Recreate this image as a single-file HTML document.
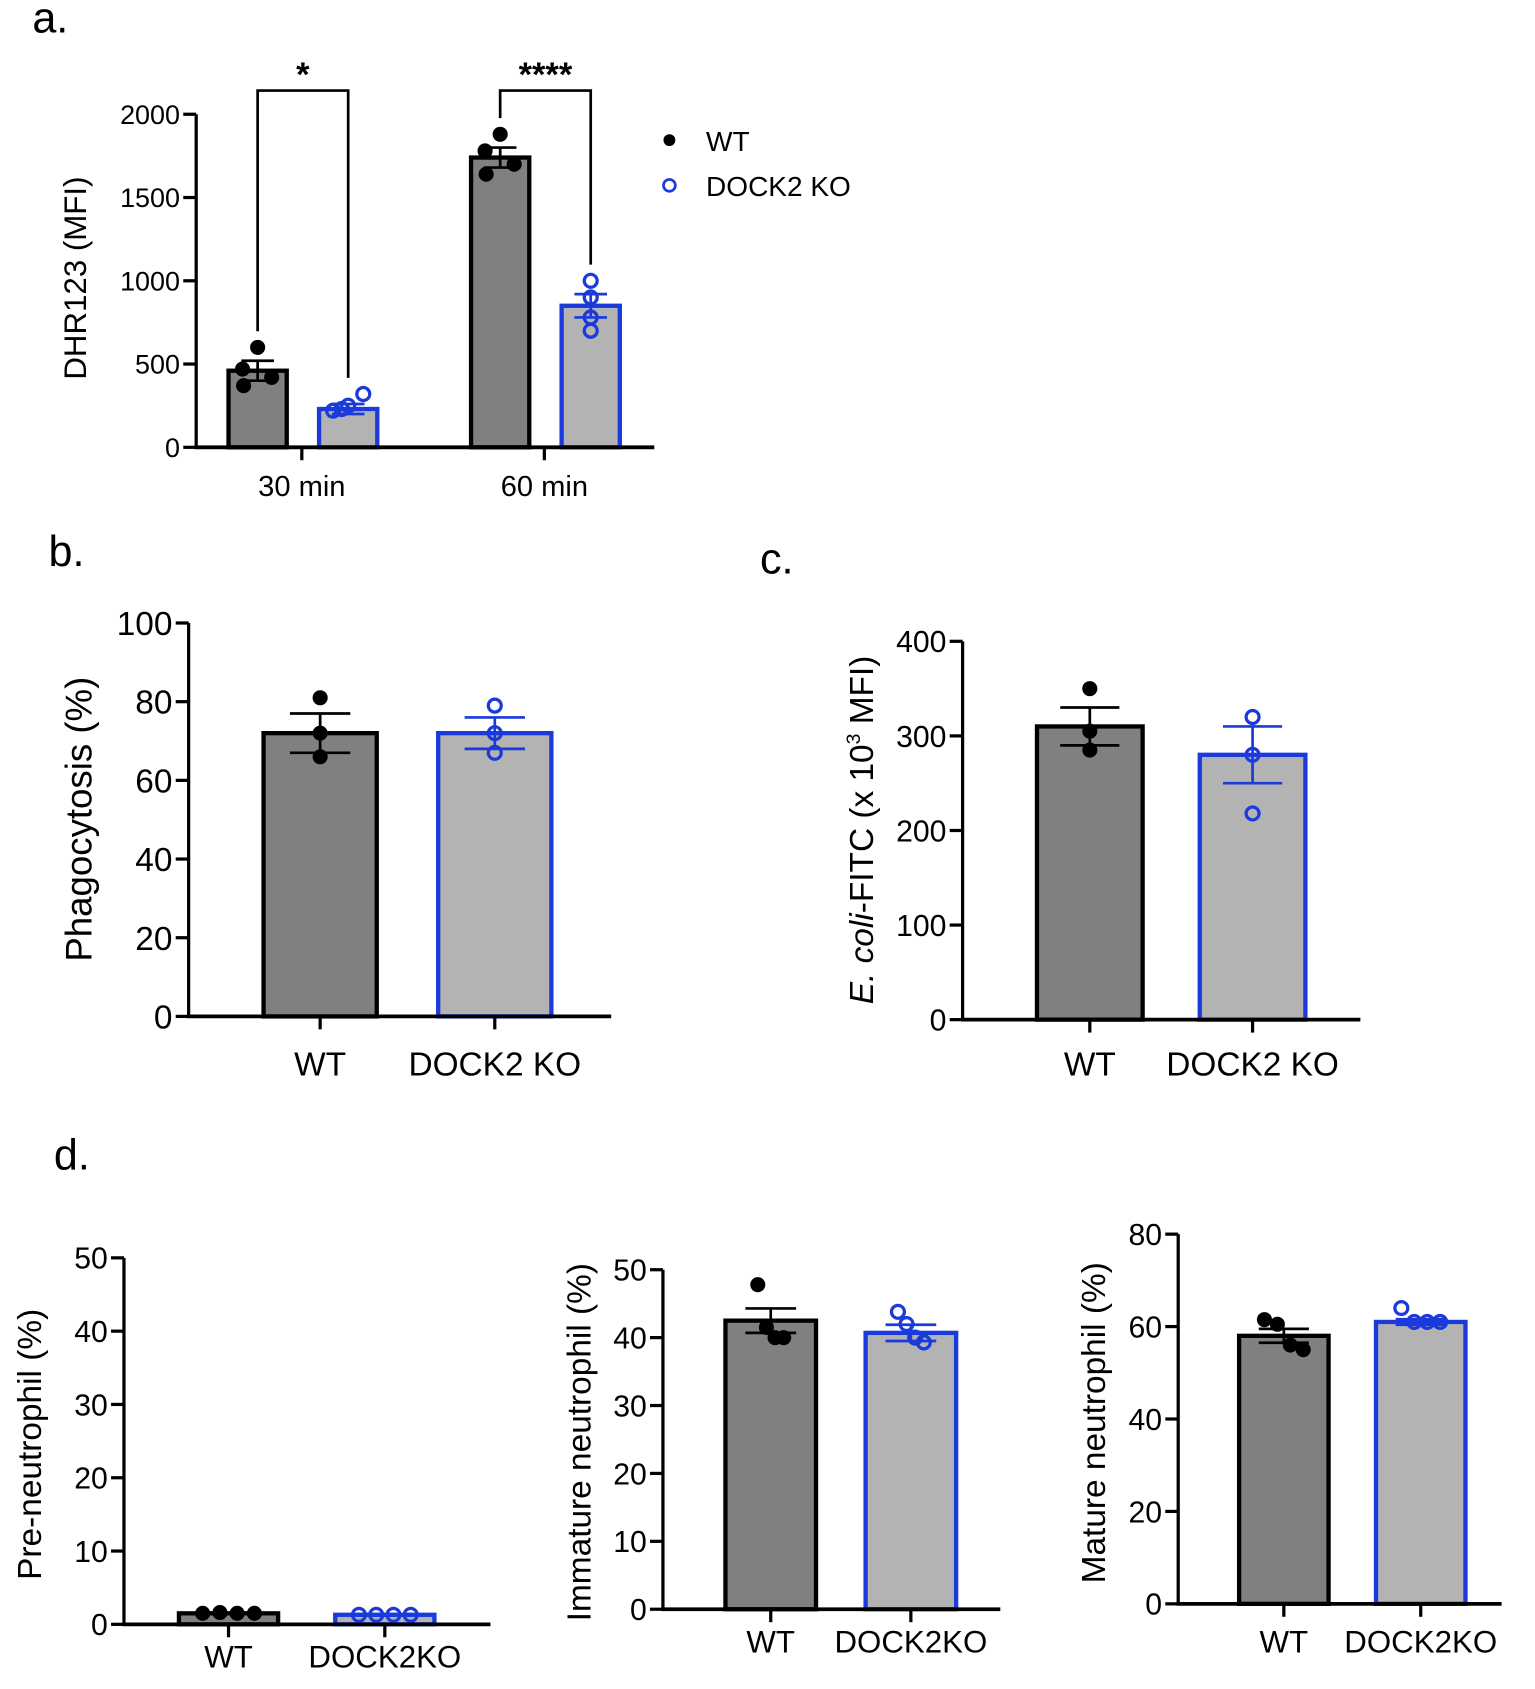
<!DOCTYPE html>
<html><head><meta charset="utf-8"><style>
html,body{margin:0;padding:0;background:#fff;}
svg{display:block;font-family:"Liberation Sans",Arial,sans-serif;}
</style></head><body>
<svg id="fig" width="1535" height="1689" viewBox="0 0 1424 1567" preserveAspectRatio="none" xmlns="http://www.w3.org/2000/svg">
<text x="30" y="30" font-size="40">a.</text>
<text x="45" y="525" font-size="40">b.</text>
<text x="705" y="532" font-size="40">c.</text>
<text x="50" y="1085" font-size="40">d.</text>
<g>
<circle cx="621" cy="130" r="5.5" fill="#000"/>
<text x="655" y="140" font-size="26">WT</text>
<circle cx="621" cy="172" r="5.5" fill="none" stroke="#1a3adb" stroke-width="2.5"/>
<text x="655" y="182" font-size="26">DOCK2 KO</text>
</g>
</svg>
<script>
// Panel a data
const aCategories = ["30 min", "60 min"];
const aWT = [460, 1740];
const aKO = [230, 850];
const aWTsem = [60, 60];
const aKOsem = [30, 70];
const aWTpts = [[600, 470, 420, 370], [1880, 1780, 1700, 1640]];
const aKOpts = [[320, 250, 230, 220], [1000, 900, 780, 700]];
const aTicks = [0, 500, 1000, 1500, 2000];
const aSig = ["*", "****"];
// Panel b data
const bCategories = ["WT", "DOCK2 KO"];
const bValues = [72, 72];
const bSem = [5, 4];
const bPts = [[81, 72, 66], [79, 72, 67]];
const bTicks = [0, 20, 40, 60, 80, 100];
// Panel c data
const cCategories = ["WT", "DOCK2 KO"];
const cValues = [310, 280];
const cSem = [20, 30];
const cPts = [[350, 305, 285], [320, 280, 218]];
const cTicks = [0, 100, 200, 300, 400];
// Panel d data
const dCategories = ["WT", "DOCK2KO"];
const d1Values = [1.5, 1.3];
const d1Sem = [0.1, 0.1];
const d1Pts = [[1.5, 1.6, 1.5, 1.5], [1.3, 1.3, 1.3, 1.3]];
const d1Ticks = [0, 10, 20, 30, 40, 50];
const d2Values = [42.5, 40.7];
const d2Sem = [1.8, 1.2];
const d2Pts = [[47.8, 41.5, 40, 40], [43.8, 42, 40, 39.3]];
const d2Ticks = [0, 10, 20, 30, 40, 50];
const d3Values = [58, 61];
const d3Sem = [1.5, 0.6];
const d3Pts = [[61.5, 60.5, 56, 55], [64, 61, 61, 61]];
const d3Ticks = [0, 20, 40, 60, 80];

const NS = "http://www.w3.org/2000/svg";
const svg = document.getElementById("fig");
const BLUE = "#1a3adb";
function mk(tag, attrs, parent, txt) {
  const e = document.createElementNS(NS, tag);
  for (const k in attrs) e.setAttribute(k, attrs[k]);
  if (txt !== undefined) e.textContent = txt;
  (parent || svg).appendChild(e);
  return e;
}
function makeAxis(cfg) {
  return v => cfg.yBot - (v / cfg.max) * (cfg.yBot - cfg.yTop);
}
function drawAxes(g, cfg, y, ticks, tickFs) {
  let e = mk("line", {x1: cfg.x0, y1: cfg.yTop, x2: cfg.x0, y2: cfg.yBot, stroke: "#000", "stroke-width": 3}, g);
  
  
  e = mk("line", {x1: cfg.x0 - 1.5, y1: cfg.yBot, x2: cfg.x1, y2: cfg.yBot, stroke: "#000", "stroke-width": 3.5}, g);
  
  
  ticks.forEach(t => {
    const ty = y(t);
    let l = mk("line", {x1: cfg.x0 - 12, y1: ty, x2: cfg.x0, y2: ty, stroke: "#000", "stroke-width": 3}, g);
    
    
    let tx = mk("text", {x: cfg.x0 - 15, y: ty + tickFs * 0.36, "font-size": tickFs, "text-anchor": "end"}, g, String(t));
    
    
  });
}
function drawBar(g, xl, w, val, sem, pts, y, isKO, yBot) {
  const top = y(val);
  let r = mk("rect", {x: xl, y: top, width: w, height: yBot - top, fill: isKO ? "#b3b3b3" : "#808080", stroke: isKO ? BLUE : "#000", "stroke-width": 4}, g);
  
  
  const cx = xl + w / 2, col = isKO ? BLUE : "#000", ew = Math.min(w * 0.28, 28);
  let eb = mk("path", {d: `M${cx - ew} ${y(val + sem)}H${cx + ew}M${cx} ${y(val + sem)}V${y(val - sem)}M${cx - ew} ${y(val - sem)}H${cx + ew}`, stroke: col, "stroke-width": 2.5, fill: "none"}, g);
  
  
  return {cx, col};
}
function drawPts(g, xs, pts, y, isKO) {
  pts.forEach((p, i) => {
    const c = mk("circle", {cx: xs[i], cy: y(p), r: isKO ? 6 : 7, fill: isKO ? "none" : "#000", stroke: isKO ? BLUE : "#000", "stroke-width": isKO ? 3 : 0}, g);
    
    
  });
}
function yTitle(g, x, cy, fs, content) {
  const t = mk("text", {x: 0, y: 0, "font-size": fs, "text-anchor": "middle", transform: `translate(${x},${cy}) rotate(-90)`}, g);
  t.innerHTML = content;
  
  
}
function xLabels(g, centers, labels, yBot, labelY, fs) {
  centers.forEach((cx, i) => {
    let l = mk("line", {x1: cx, y1: yBot, x2: cx, y2: yBot + 12, stroke: "#000", "stroke-width": 3}, g);
    
    
    let t = mk("text", {x: cx, y: labelY, "font-size": fs, "text-anchor": "middle"}, g, labels[i]);
    
    
  });
}

// Panel a
(function () {
  const g = mk("g", {});
  
  
  const cfg = {x0: 182, x1: 607, yTop: 106, yBot: 415, max: 2000};
  const y = makeAxis(cfg);
  const groupC = [280, 505], w = 54;
  aCategories.forEach((c, i) => {
    const wx = groupC[i] - 68, kx = groupC[i] + 16;
    drawBar(g, wx, w, aWT[i], aWTsem[i], aWTpts[i], y, false, cfg.yBot);
    drawBar(g, kx, w, aKO[i], aKOsem[i], aKOpts[i], y, true, cfg.yBot);
    const wc = wx + w / 2, kc = kx + w / 2;
    drawPts(g, [wc, wc - 14, wc + 13, wc - 13], aWTpts[i], y, false);
    drawPts(g, i === 0 ? [kc + 14, kc, kc - 6, kc - 14] : [kc, kc, kc, kc], aKOpts[i], y, true);
    const l1 = y(Math.max(...aWTpts[i])) - 15, l2 = y(Math.max(...aKOpts[i])) - 15;
    const by = 84;
    let br = mk("path", {d: `M${wc} ${l1}V${by}H${kc}V${l2}`, stroke: "#000", "stroke-width": 2.5, fill: "none"}, g);
    
    
    let st = mk("text", {x: (wc + kc) / 2, y: 80, "font-size": 32, "font-weight": "bold", "text-anchor": "middle"}, g, aSig[i]);
    
    
  });
  drawAxes(g, cfg, y, aTicks, 25);
  xLabels(g, groupC, aCategories, cfg.yBot, 460, 27);
  yTitle(g, 80, 258, 29, "DHR123 (MFI)");
})();

function twoBarPanel(name, cfg, values, sem, pts, ticks, cats, barW, centers, tickFs, labFs, labY, titleX, titleY, titleFs, title, spreadX) {
  const g = mk("g", {});
  
  
  const y = makeAxis(cfg);
  values.forEach((v, i) => {
    const xl = centers[i] - barW / 2;
    drawBar(g, xl, barW, v, sem[i], pts[i], y, i === 1, cfg.yBot);
    const n = pts[i].length, xs = [];
    for (let j = 0; j < n; j++) xs.push(spreadX ? centers[i] + (j - (n - 1) / 2) * spreadX : centers[i]);
    drawPts(g, xs, pts[i], y, i === 1);
  });
  drawAxes(g, cfg, y, ticks, tickFs);
  xLabels(g, centers, cats, cfg.yBot, labY, labFs);
  yTitle(g, titleX, titleY, titleFs, title);
}

twoBarPanel("panel-b-chart", {x0: 175, x1: 567, yTop: 578, yBot: 943, max: 100}, bValues, bSem, bPts, bTicks, bCategories, 105, [297, 459], 31, 31, 998, 85, 760, 34, "Phagocytosis (%)", 0);
twoBarPanel("panel-c-chart", {x0: 893, x1: 1262, yTop: 595, yBot: 946, max: 400}, cValues, cSem, cPts, cTicks, cCategories, 98, [1011, 1162], 28, 31, 998, 810, 770, 31, '<tspan font-style="italic">E. coli</tspan>-FITC (x 10<tspan font-size="18" dy="-12">3</tspan><tspan dy="12"> MFI)</tspan>', 0);
twoBarPanel("panel-d1-chart", {x0: 115, x1: 455, yTop: 1167, yBot: 1507, max: 50}, d1Values, d1Sem, d1Pts, d1Ticks, dCategories, 92, [212, 357], 28, 29, 1547, 38, 1340, 31, "Pre-neutrophil (%)", 16);
twoBarPanel("panel-d2-chart", {x0: 615, x1: 928, yTop: 1178, yBot: 1493, max: 50}, d2Values, d2Sem, d2Pts, d2Ticks, dCategories, 84, [715, 845], 28, 29, 1533, 548, 1338, 31, "Immature neutrophil (%)", 8);
twoBarPanel("panel-d3-chart", {x0: 1093, x1: 1393, yTop: 1145, yBot: 1488, max: 80}, d3Values, d3Sem, d3Pts, d3Ticks, dCategories, 83, [1191, 1318], 28, 29, 1533, 1025, 1320, 31, "Mature neutrophil (%)", 12);
</script>
</body></html>
